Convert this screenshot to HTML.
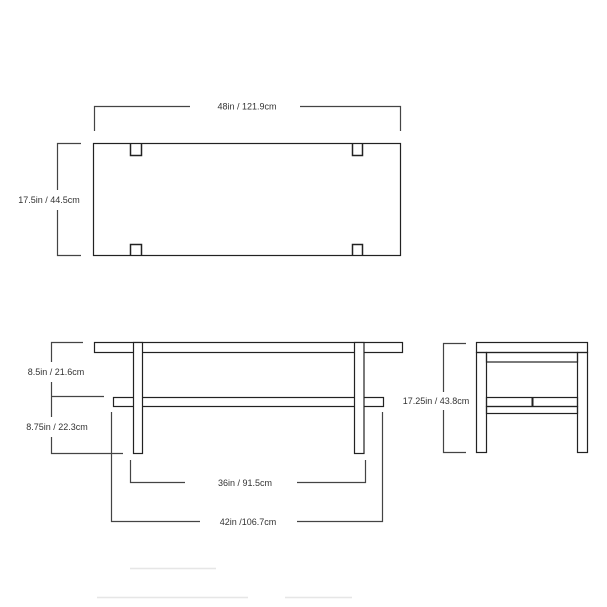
<!DOCTYPE html>
<html><head><style>body{margin:0;background:#fff}svg{display:block}text{font-family:"Liberation Sans",sans-serif;font-size:9px;fill:#333}</style></head><body>
<svg width="607" height="607" viewBox="0 0 607 607" xmlns="http://www.w3.org/2000/svg">
<g fill="none" stroke="#222" stroke-width="1.2">
<!-- top view -->
<rect x="93.5" y="143.5" width="307" height="112"/>
<path d="M130.5 143.5V155.5H141.5V143.5M352.5 143.5V155.5H362.5V143.5M130.5 255.5V244.5H141.5V255.5M352.5 255.5V244.5H362.5V255.5" stroke-width="1.5"/>
<path d="M94.5 131V106.5H190M300 106.5H400.5V131" stroke="#444"/>
<path d="M81 143.5H57.5V190M57.5 210V255.5H81" stroke="#444"/>
<!-- side view -->
<rect x="94.5" y="342.5" width="308" height="10"/>
<rect x="113.5" y="397.5" width="270" height="9"/>
<rect x="133.5" y="342.5" width="9" height="111" fill="#fff"/>
<rect x="354.5" y="342.5" width="9.5" height="111" fill="#fff"/>
<path d="M83 342.5H51.5V362M51.5 382V396.5H104M51.5 396.5V417M51.5 437V453.5H123" stroke="#444"/>
<path d="M130.5 460V482.5H185M297 482.5H365.5V460" stroke="#444"/>
<path d="M111.5 412V521.5H200M297 521.5H382.5V412" stroke="#444"/>
<!-- end view -->
<rect x="476.5" y="342.5" width="111" height="10"/>
<rect x="476.5" y="352.5" width="10" height="100"/>
<rect x="577.5" y="352.5" width="10" height="100"/>
<rect x="486.5" y="352.5" width="91" height="9.5"/>
<rect x="486.5" y="397.5" width="91" height="9"/>
<rect x="486.5" y="406.5" width="91" height="7"/>
<path d="M532.5 398V406" stroke-width="2"/>
<path d="M466 343.5H443.5V392M443.5 410V452.5H466" stroke="#444"/>
</g>
<g stroke="#e6e6e6" stroke-width="1.5">
<path d="M130 568.5H216M97 597.5H248M285 597.5H352"/>
</g>
<text x="247" y="109.5" text-anchor="middle">48in / 121.9cm</text>
<text x="49" y="203" text-anchor="middle">17.5in / 44.5cm</text>
<text x="56" y="375" text-anchor="middle">8.5in / 21.6cm</text>
<text x="57" y="430" text-anchor="middle">8.75in / 22.3cm</text>
<text x="245" y="486" text-anchor="middle">36in / 91.5cm</text>
<text x="248" y="525" text-anchor="middle">42in /106.7cm</text>
<text x="436" y="404" text-anchor="middle">17.25in / 43.8cm</text>
</svg>
</body></html>
